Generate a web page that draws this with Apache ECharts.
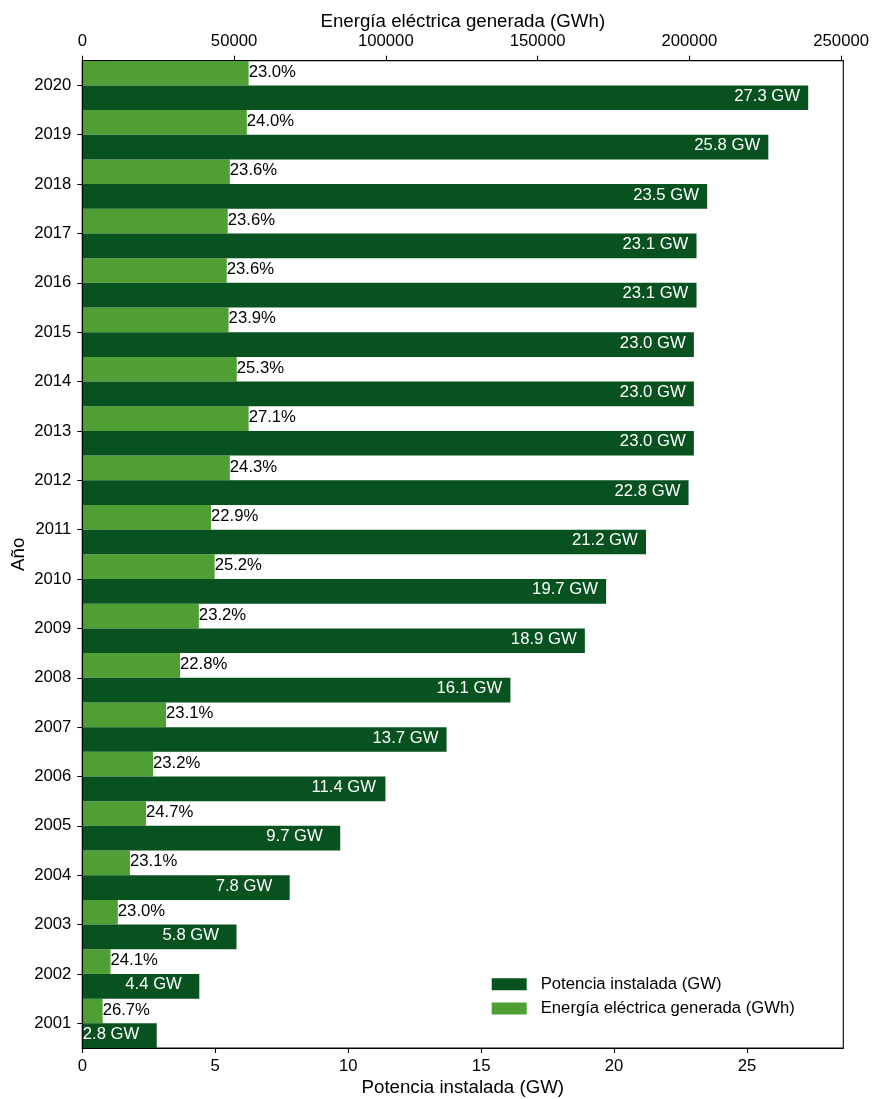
<!DOCTYPE html>
<html>
<head>
<meta charset="utf-8">
<script src="https://cdn.jsdelivr.net/npm/echarts@6/dist/echarts.min.js"></script>
<style>
html,body{margin:0;padding:0;background:#fff;}
#chart{width:872px;height:1099px;}
</style>
</head>
<body>
<div id="chart"></div>
<script>
const years = ['2001','2002','2003','2004','2005','2006','2007','2008','2009','2010','2011','2012','2013','2014','2015','2016','2017','2018','2019','2020'];
const potencia = [2.8, 4.4, 5.8, 7.8, 9.7, 11.4, 13.7, 16.1, 18.9, 19.7, 21.2, 22.8, 23.0, 23.0, 23.0, 23.1, 23.1, 23.5, 25.8, 27.3];
const energia = [6700, 9300, 11700, 15700, 21000, 23300, 27600, 32200, 38400, 43600, 42400, 48600, 54800, 50900, 48200, 47600, 47900, 48600, 54200, 54800];
const factor = [26.7, 24.1, 23.0, 23.1, 24.7, 23.2, 23.1, 22.8, 23.2, 25.2, 22.9, 24.3, 27.1, 25.3, 23.9, 23.6, 23.6, 23.6, 24.0, 23.0];
const bottomTicks = [0, 5, 10, 15, 20, 25];
const topTicks = [0, 50000, 100000, 150000, 200000, 250000];

const nameP = 'Potencia instalada (GW)';
const nameE = 'Energía eléctrica generada (GWh)';
const FONT = "'Liberation Sans', Arial, sans-serif";
const FS = 16.7;
const FT = 18.7;
const DARK = '#07521f';
const LIGHT = '#509f34';
const xMaxGW = 28.62;

const chart = echarts.init(document.getElementById('chart'), null, {renderer: 'canvas'});
chart.setOption({
  animation: false,
  backgroundColor: '#fff',
  textStyle: {fontFamily: FONT, fontSize: FS, color: '#000'},
  grid: {left: 82.3, right: 28.7, top: 60.7, bottom: 51, containLabel: false,
         outerBoundsMode: 'none',
         show: true, borderColor: '#000', borderWidth: 1.1, backgroundColor: 'transparent'},
  legend: {
    orient: 'vertical', left: 491.7, top: 974.2, padding: 0, itemGap: 4.3,
    itemWidth: 35, itemHeight: 12, icon: 'rect',
    data: [nameP, nameE],
    textStyle: {fontFamily: FONT, fontSize: FS, color: '#000', lineHeight: 20, padding: [0, 0, 0, 9]}
  },
  xAxis: [
    {
      type: 'value', position: 'bottom', min: 0, max: xMaxGW, interval: 5, z: 5,
      name: nameP, nameLocation: 'middle', nameGap: 30, nameMoveOverlap: false,
      nameTextStyle: {fontFamily: FONT, fontSize: FT, color: '#000'},
      axisLine: {show: true, lineStyle: {color: '#000', width: 1.1}},
      axisTick: {show: true, length: 5, lineStyle: {color: '#000', width: 1.1}},
      axisLabel: {margin: 10, fontFamily: FONT, fontSize: FS, color: '#000',
        showMaxLabel: false,
        formatter: v => bottomTicks.includes(v) ? String(v) : ''},
      splitLine: {show: false}
    },
    {
      type: 'value', position: 'top', min: 0, max: xMaxGW * 8760, interval: 50000, z: 5,
      name: nameE, nameLocation: 'middle', nameGap: 29, nameMoveOverlap: false,
      nameTextStyle: {fontFamily: FONT, fontSize: FT, color: '#000'},
      axisLine: {show: true, lineStyle: {color: '#000', width: 1.1}},
      axisTick: {show: true, length: 5, lineStyle: {color: '#000', width: 1.1}},
      axisLabel: {margin: 10.5, fontFamily: FONT, fontSize: FS, color: '#000',
        showMaxLabel: false,
        formatter: v => topTicks.includes(v) ? String(v) : ''},
      splitLine: {show: false}
    }
  ],
  yAxis: {
    type: 'category', data: years, z: 5,
    name: 'Año', nameLocation: 'middle', nameGap: 54, nameMoveOverlap: false,
    nameTextStyle: {fontFamily: FONT, fontSize: FT, color: '#000'},
    axisLine: {show: true, lineStyle: {color: '#000', width: 1.1}},
    axisTick: {show: true, alignWithLabel: true, length: 5, lineStyle: {color: '#000', width: 1.1}},
    axisLabel: {margin: 11, fontFamily: FONT, fontSize: FS, color: '#000'},
    splitLine: {show: false}
  },
  series: [
    {
      name: nameE, type: 'bar', xAxisIndex: 1, yAxisIndex: 0,
      data: energia, barGap: '0%', barCategoryGap: '0%',
      itemStyle: {color: LIGHT},
      label: {show: true, position: ['100%', '50%'], align: 'left', verticalAlign: 'middle',
        offset: [0, -1], fontFamily: FONT, fontSize: FS, color: '#000',
        formatter: p => factor[p.dataIndex].toFixed(1) + '%'}
    },
    {
      name: nameP, type: 'bar', xAxisIndex: 0, yAxisIndex: 0,
      data: potencia, barGap: '0%', barCategoryGap: '0%',
      itemStyle: {color: DARK},
      label: {show: true, position: ['100%', '50%'], align: 'left', verticalAlign: 'middle',
        offset: [-74, -1.5], fontFamily: FONT, fontSize: FS, color: '#fff',
        formatter: p => potencia[p.dataIndex].toFixed(1) + ' GW'}
    }
  ]
});
</script>
</body>
</html>
